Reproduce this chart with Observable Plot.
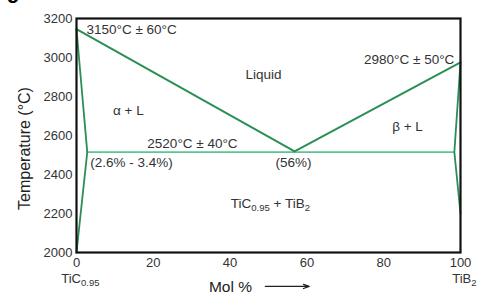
<!DOCTYPE html>
<html>
<head>
<meta charset="utf-8">
<script src="https://cdn.jsdelivr.net/npm/d3@7"></script>
<script src="https://cdn.jsdelivr.net/npm/@observablehq/plot@0.6"></script>
<style>
  html, body { margin: 0; padding: 0; background: #fff; }
  #chart svg { display: block; }
</style>
</head>
<body>
<div id="chart"></div>
<script>
// Phase boundaries (mol % TiB2, temperature °C)
const liquidus = [
  {x: 0, y: 3145}, {x: 56.8, y: 2518}, {x: 100, y: 2975}
];
const solidusLeft = [
  {x: 0, y: 3145}, {x: 2.8, y: 2515}, {x: 0, y: 2000}
];
const solidusRight = [
  {x: 100, y: 2975}, {x: 98.4, y: 2515}, {x: 100, y: 2200}
];
const eutectic = [
  {x: 2.8, y: 2515}, {x: 98.4, y: 2515}
];
const xTicks = [0, 20, 40, 60, 80, 100];
const yTicks = [2000, 2200, 2400, 2600, 2800, 3000, 3200];

// Annotations (data coordinates)
const labelsStart = [
  {x: 2.6, y: 3144, text: "3150°C ± 60°C"},
  {x: 3.6, y: 2462, text: "(2.6% - 3.4%)"}
];
const labelsEnd = [
  {x: 98.4, y: 2990, text: "2980°C ± 50°C"}
];
const labelsMid = [
  {x: 48.7, y: 2913, text: "Liquid"},
  {x: 13.5, y: 2728, text: "α + L"},
  {x: 86.2, y: 2646, text: "β + L"},
  {x: 30.2, y: 2559, text: "2520°C ± 40°C"},
  {x: 56.5, y: 2462, text: "(56%)"},
  {x: 50.5, y: 2251, text: "TiC0.95 + TiB2"}
];
const endLabels = [
  {x: 1.0, y: 1866, text: "TiC0.95"},
  {x: 101, y: 1866, text: "TiB2"}
];
const axisTitle = [{x: 40.1, y: 1821, text: "Mol %"}];
const axisArrow = [{x1: 49.2, x2: 60.6, y: 1826}];

const dark = "#2b8f55";
const light = "#5cc495";
const font = "'Liberation Sans', Arial, sans-serif";

const plot = Plot.plot({
  width: 477,
  height: 297,
  marginLeft: 76,
  marginRight: 17,
  marginTop: 18,
  marginBottom: 45,
  style: {fontFamily: font, fontSize: "13px", color: "#333", background: "#fff"},
  x: {domain: [0, 100], label: null},
  y: {domain: [2000, 3200], label: null},
  marks: [
    Plot.axisX({ticks: xTicks, tickSize: 0, tickPadding: 5, fontSize: 13, tickFormat: d => String(d), label: null}),
    Plot.axisY({ticks: yTicks, tickSize: 0, tickPadding: 4, fontSize: 13, tickFormat: d => String(d), label: null}),
    Plot.line(eutectic, {x: "x", y: "y", stroke: light, strokeWidth: 1.6}),
    Plot.line(liquidus, {x: "x", y: "y", stroke: dark, strokeWidth: 2}),
    Plot.line(solidusLeft, {x: "x", y: "y", stroke: dark, strokeWidth: 1.8}),
    Plot.line(solidusRight, {x: "x", y: "y", stroke: dark, strokeWidth: 1.8}),
    Plot.frame({stroke: "#111", strokeWidth: 2.2}),
    Plot.text(labelsStart, {x: "x", y: "y", text: "text", textAnchor: "start", fill: "#333", fontSize: 13.5}),
    Plot.text(labelsEnd, {x: "x", y: "y", text: "text", textAnchor: "end", fill: "#333", fontSize: 13.5}),
    Plot.text(labelsMid, {x: "x", y: "y", text: "text", fill: "#333", fontSize: 13.5}),
    Plot.text(endLabels, {x: "x", y: "y", text: "text", fill: "#333", fontSize: 13}),
    Plot.text(axisTitle, {x: "x", y: "y", text: "text", fill: "#222", fontSize: 15.5}),
    Plot.arrow(axisArrow, {x1: "x1", x2: "x2", y1: "y", y2: "y", stroke: "#222", strokeWidth: 1.3, headLength: 7, headAngle: 40}),
    Plot.text(["Temperature (°C)"], {frameAnchor: "left", textAnchor: "middle", dx: -52, dy: 13, rotate: -90, fill: "#222", fontSize: 16}),
    Plot.text(["c"], {frameAnchor: "top-left", dx: -70, dy: -31, fill: "#000", fontSize: 22, fontWeight: "bold", textAnchor: "start"})
  ]
});

// Render chemical subscripts
d3.select(plot).selectAll("text").each(function() {
  const el = d3.select(this);
  if (el.selectAll("tspan").size() > 0) return;
  const t = this.textContent;
  if (!/TiC0\.95|TiB2/.test(t)) return;
  const parts = t.split(/(0\.95|(?<=TiB)2)/).filter(s => s.length);
  el.text(null);
  let shifted = false;
  parts.forEach(p => {
    const isSub = p === "0.95" || p === "2";
    const ts = el.append("tspan").text(p);
    if (isSub) { ts.attr("font-size", "9.5px").attr("dy", 3.5); shifted = true; }
    else if (shifted) { ts.attr("dy", -3.5); shifted = false; }
  });
});

document.getElementById("chart").appendChild(plot);
</script>
</body>
</html>
